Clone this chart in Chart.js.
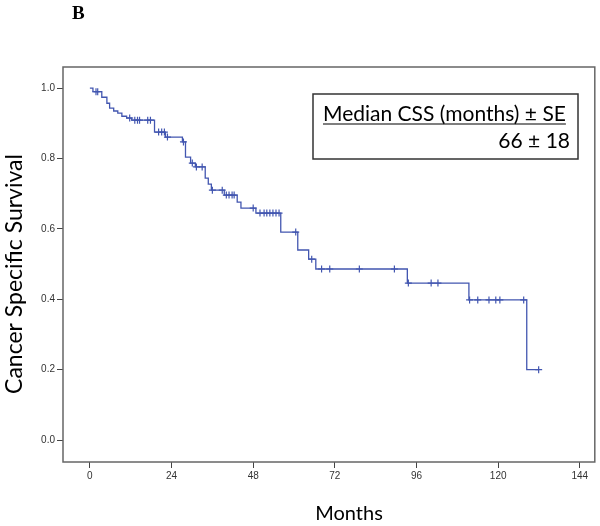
<!DOCTYPE html>
<html>
<head>
<meta charset="utf-8">
<script src="https://cdn.jsdelivr.net/npm/chart.js@4.4.0/dist/chart.umd.min.js"></script>
<style>
  body { margin: 0; background: #fff; }
</style>
</head>
<body>
<canvas id="kmChart" width="600" height="526"></canvas>
<script>
// Kaplan-Meier steps: month of each drop and the survival after it
const stepMonths   = [0, 0.9, 3.5, 5.0, 5.8, 7.0, 8.2, 9.4, 10.8, 12.3, 19.0, 22.2, 27.2, 28.1, 29.6, 31.0, 33.9, 34.8, 35.7, 39.5, 43.3, 44.4, 48.8, 56.1, 61.1, 64.3, 66.4, 93.3, 111.4, 128.4];
const stepSurvival = [1.0, 0.99, 0.974, 0.957, 0.943, 0.935, 0.929, 0.920, 0.915, 0.909, 0.875, 0.861, 0.847, 0.804, 0.787, 0.776, 0.744, 0.727, 0.710, 0.696, 0.676, 0.659, 0.645, 0.591, 0.540, 0.514, 0.486, 0.446, 0.398, 0.20];
// censored cases (months)
const censorMonths = [1.8, 2.3, 11.7, 13.2, 14.0, 14.6, 17.0, 17.8, 20.2, 21.1, 21.9, 22.8, 27.5, 30.1, 31.3, 33.0, 36.0, 38.9, 40.1, 40.9, 41.8, 42.4, 48.0, 50.0, 51.2, 52.0, 52.9, 53.8, 54.7, 55.6, 60.5, 65.2, 68.1, 70.5, 79.2, 89.5, 93.6, 100.3, 102.3, 111.6, 114.0, 117.3, 119.3, 120.5, 127.5, 131.9];

const xTicks = [0, 24, 48, 72, 96, 120, 144];
const yTicks = [0, 0.2, 0.4, 0.6, 0.8, 1.0];

const medianLabel = 'Median CSS (months) ± SE';
const medianValue = '66 ± 18';

const blue = 'rgb(66, 86, 176)';

function survivalAt(t) {
  let s = stepSurvival[0];
  for (let i = 0; i < stepMonths.length; i++) {
    if (stepMonths[i] <= t) s = stepSurvival[i];
  }
  return s;
}

const curve = stepMonths.map((m, i) => ({x: m, y: stepSurvival[i]}));
const lastCensor = censorMonths[censorMonths.length - 1];
curve.push({x: lastCensor, y: survivalAt(lastCensor)});
const censors = censorMonths.map(m => ({x: m, y: survivalAt(m)}));

const extras = {
  id: 'extras',
  afterDraw(chart) {
    const ctx = chart.ctx;
    const a = chart.chartArea;
    ctx.save();
    // frame
    ctx.strokeStyle = '#666';
    ctx.lineWidth = 1.5;
    ctx.strokeRect(a.left, a.top, a.right - a.left, a.bottom - a.top);

    // panel letter
    ctx.fillStyle = '#000';
    ctx.font = 'bold 19px "Liberation Serif"';
    ctx.textBaseline = 'alphabetic';
    ctx.textAlign = 'left';
    ctx.fillText('B', 72, 19);

    // axis titles
    ctx.font = '20px Lato';
    ctx.textAlign = 'center';
    ctx.textBaseline = 'middle';
    ctx.fillText('Months', 349, 514);
    ctx.save();
    ctx.translate(15, 274);
    ctx.rotate(-Math.PI / 2);
    ctx.font = '23px Lato';
    ctx.fillText('Cancer Specific Survival', 0, 0);
    ctx.restore();

    // median box
    ctx.strokeStyle = '#333';
    ctx.lineWidth = 1.5;
    ctx.strokeRect(313, 94, 265, 65);
    ctx.font = '21px Lato';
    ctx.textAlign = 'left';
    ctx.fillText(medianLabel, 323, 114);
    const w = ctx.measureText(medianLabel).width;
    ctx.lineWidth = 1.2;
    ctx.strokeStyle = '#000';
    ctx.beginPath();
    ctx.moveTo(323, 124);
    ctx.lineTo(323 + w, 124);
    ctx.stroke();
    ctx.textAlign = 'right';
    ctx.fillText(medianValue, 570, 141);
    ctx.restore();
  }
};

const tickFont = {family: '"Liberation Sans"', size: 10};

new Chart(document.getElementById('kmChart'), {
  type: 'scatter',
  data: {
    datasets: [{
      data: curve,
      showLine: true,
      stepped: 'before',
      borderColor: blue,
      borderWidth: 1.3,
      pointRadius: 0
    }, {
      data: censors,
      showLine: false,
      pointStyle: 'cross',
      pointRadius: 3.5,
      borderColor: blue,
      borderWidth: 1.2
    }]
  },
  options: {
    responsive: false,
    animation: false,
    layout: {padding: {left: 0, top: 67, right: 2, bottom: 34}},
    plugins: {legend: {display: false}, tooltip: {enabled: false}},
    scales: {
      x: {
        type: 'linear',
        min: -7.9,
        max: 148.4,
        afterBuildTicks: s => { s.ticks = xTicks.map(v => ({value: v})); },
        afterFit: s => { s.height = 30; },
        ticks: {font: tickFont, color: '#333', padding: 2, maxRotation: 0},
        grid: {drawOnChartArea: false, drawTicks: true, tickLength: 6, color: '#444'},
        border: {display: false}
      },
      y: {
        min: -0.0625,
        max: 1.06,
        afterBuildTicks: s => { s.ticks = yTicks.map(v => ({value: v})); },
        afterFit: s => { s.width = 63; },
        ticks: {font: tickFont, color: '#333', padding: 2, callback: v => v.toFixed(1)},
        grid: {drawOnChartArea: false, drawTicks: true, tickLength: 6, color: '#444'},
        border: {display: false}
      }
    }
  },
  plugins: [extras]
});
</script>
</body>
</html>
